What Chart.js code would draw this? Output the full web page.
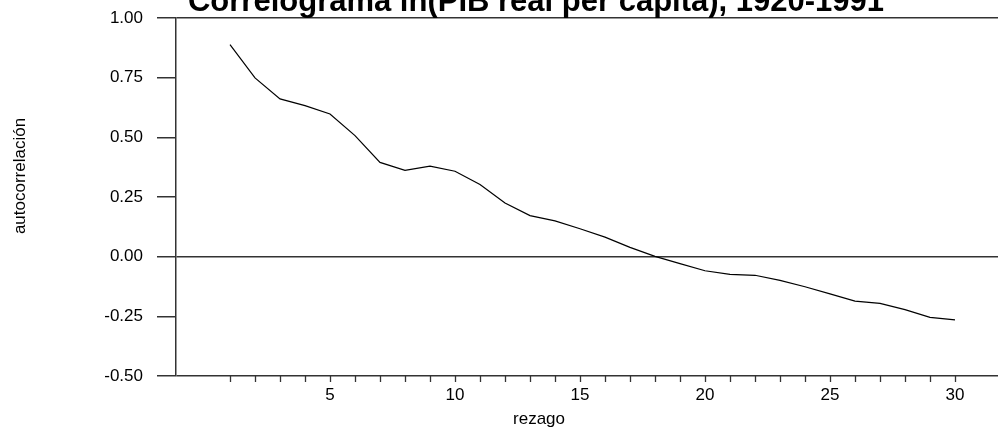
<!DOCTYPE html>
<html>
<head>
<meta charset="utf-8">
<script src="https://cdn.jsdelivr.net/npm/chart.js@4/dist/chart.umd.min.js"></script>
<style>
  html, body { margin: 0; padding: 0; background: #fff; }
  canvas { display: block; }
</style>
</head>
<body>
<canvas id="chart" width="998" height="427"></canvas>
<script>
const title = 'Correlograma ln(PIB real per capita), 1920-1991'
const xTitle = 'rezago'
const yTitle = 'autocorrelación'

const lags = [1, 2, 3, 4, 5, 6, 7, 8, 9, 10, 11, 12, 13, 14, 15,
  16, 17, 18, 19, 20, 21, 22, 23, 24, 25, 26, 27, 28, 29, 30]
const acf = [0.888, 0.749, 0.661, 0.633, 0.598, 0.507, 0.395, 0.362, 0.379, 0.358,
  0.302, 0.225, 0.172, 0.150, 0.117, 0.082, 0.039, 0.001, -0.029, -0.059,
  -0.074, -0.078, -0.099, -0.126, -0.156, -0.186, -0.196, -0.222, -0.254, -0.265]
const yTicks = [-0.5, -0.25, 0, 0.25, 0.5, 0.75, 1.0]
const xLabelEvery = 5

const FONT = 'Liberation Sans, Arial, sans-serif'
const AXIS = '#333'

// titles sit where the original put them, so draw them by hand
const textPlugin = {
  id: 'texts',
  afterDraw(chart) {
    const ctx = chart.ctx
    ctx.save()
    ctx.fillStyle = '#000'
    ctx.textAlign = 'center'
    ctx.textBaseline = 'alphabetic'
    ctx.font = 'bold 31px ' + FONT
    ctx.fillText(title, 536, 11)
    ctx.font = '17px ' + FONT
    ctx.fillText(xTitle, 539, 424)
    ctx.translate(25, 176)
    ctx.rotate(-Math.PI / 2)
    ctx.fillText(yTitle, 0, 0)
    ctx.restore()
  }
}

new Chart(document.getElementById('chart'), {
  type: 'line',
  data: {
    datasets: [{
      data: lags.map((l, i) => ({ x: l, y: acf[i] })),
      borderColor: '#000',
      borderWidth: 1.2,
      pointRadius: 0,
      tension: 0
    }]
  },
  options: {
    animation: false,
    responsive: false,
    devicePixelRatio: 1,
    layout: { padding: { top: 18, right: 0, left: 0, bottom: 0 } },
    plugins: { legend: { display: false }, title: { display: false }, tooltip: { enabled: false } },
    scales: {
      x: {
        type: 'linear',
        min: -1.16,
        max: 31.72,
        afterBuildTicks: s => { s.ticks = lags.map(v => ({ value: v })) },
        afterFit: s => { s.height = 51; s.paddingLeft = 0; s.paddingRight = 0 },
        border: { display: false },
        grid: { drawOnChartArea: false, tickLength: 6, tickColor: AXIS, tickWidth: 1.3 },
        ticks: {
          autoSkip: false,
          maxRotation: 0,
          padding: 3,
          color: '#000',
          font: { family: FONT, size: 17 },
          callback: v => (v % xLabelEvery === 0 ? String(v) : '')
        }
      },
      y: {
        min: -0.5,
        max: 1.0,
        afterBuildTicks: s => { s.ticks = yTicks.map(v => ({ value: v })) },
        afterFit: s => { s.width = 176; s.paddingTop = 0; s.paddingBottom = 0 },
        border: { display: true, color: AXIS, width: 1.5 },
        grid: {
          drawOnChartArea: true,
          tickLength: 19,
          tickColor: AXIS,
          tickWidth: 1.5,
          lineWidth: 1.5,
          color: c => ([1, 0, -0.5].includes(c.tick.value) ? AXIS : 'rgba(0,0,0,0)')
        },
        ticks: {
          padding: 14,
          color: '#000',
          font: { family: FONT, size: 17 },
          callback: v => v.toFixed(2)
        }
      }
    }
  },
  plugins: [textPlugin]
})
</script>
</body>
</html>
